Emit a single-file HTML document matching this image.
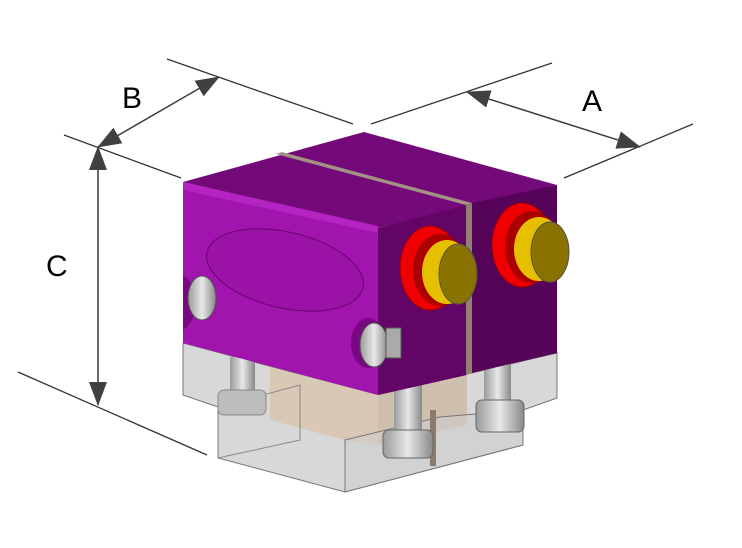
<!DOCTYPE html>
<html><head><meta charset="utf-8"><style>html,body{margin:0;padding:0;background:#fff}svg{display:block}</style></head>
<body>
<svg width="742" height="548" viewBox="0 0 742 548" xmlns="http://www.w3.org/2000/svg">
<defs>
<marker id="ar" markerWidth="24" markerHeight="18" refX="23" refY="9" orient="auto-start-reverse" markerUnits="userSpaceOnUse" viewBox="0 0 24 18"><path d="M0,0 L24,9 L0,18z" fill="#404040"/></marker>
<linearGradient id="scr" x1="0" x2="1"><stop offset="0" stop-color="#9a9a9a"/><stop offset=".5" stop-color="#e8e8e8"/><stop offset="1" stop-color="#888"/></linearGradient>
</defs>
<g stroke="#333" stroke-width="1.3" fill="none">
<line x1="167" y1="59" x2="353" y2="124"/>
<line x1="371" y1="124" x2="552" y2="63"/>
<line x1="564" y1="178" x2="693" y2="124"/>
<line x1="64" y1="135" x2="181" y2="178"/>
<line x1="18" y1="372" x2="207" y2="455"/>
</g>
<g stroke="#3c3c3c" stroke-width="1.5" fill="none">
<line x1="98" y1="147" x2="219" y2="77" marker-start="url(#ar)" marker-end="url(#ar)"/>
<line x1="467" y1="92" x2="640" y2="147" marker-start="url(#ar)" marker-end="url(#ar)"/>
<line x1="98" y1="147" x2="98" y2="405" marker-start="url(#ar)" marker-end="url(#ar)"/>
</g>
<g font-family="Liberation Sans, sans-serif" font-size="30" fill="#000">
<text x="122" y="108">B</text>
<text x="582" y="111">A</text>
<text x="46" y="276">C</text>
</g>
<polygon points="183,343 183,395 218,407 218,458 345,492 523,445 523,410 557,398 557,353 378,395" fill="#d8d8d8" stroke="#777" stroke-width="1"/>
<polygon points="270,367 378,395 378,445 345,440 270,420" fill="#d9c8b6"/>
<polygon points="378,395 467,375 467,425 378,445" fill="#cfbfae"/>
<polyline points="218,407 300,385 300,440 218,458" fill="none" stroke="#888"/>
<polyline points="345,440 345,492" stroke="#888"/>
<polygon points="345,440 440,417 523,410 523,445 345,492" fill="#cfcfcf" fill-opacity=".6" stroke="#777"/>
<rect x="430" y="410" width="6" height="56" fill="#8a7b6c"/>
<rect x="230" y="357" width="25" height="40" fill="url(#scr)"/>
<rect x="218" y="390" width="48" height="25" rx="6" fill="#bdbdbd" stroke="#888"/>
<rect x="394" y="385" width="28" height="50" fill="url(#scr)"/>
<rect x="383" y="430" width="50" height="28" rx="6" fill="url(#scr)" stroke="#666"/>
<rect x="484" y="355" width="27" height="50" fill="url(#scr)"/>
<rect x="476" y="400" width="48" height="32" rx="6" fill="url(#scr)" stroke="#666"/>
<polygon points="183,182 364,132 557,185 378,228" fill="#740a7a"/>
<polygon points="183,182 378,228 378,395 183,343" fill="#a114ad"/>
<polygon points="183,182 378,226 378,233 183,190" fill="#b424c0"/>
<polygon points="378,228 467,205 467,375 378,395" fill="#620566"/>
<polygon points="472,203 557,185 557,353 472,373" fill="#560459"/>
<polygon points="276,154 282,152 472,203 466,205" fill="#a39384"/>
<polygon points="466,205 472,203 472,373 466,375" fill="#8f8070"/>
<ellipse cx="285" cy="270" rx="80" ry="38" transform="rotate(13 285 270)" fill="#9a12a6" stroke="#6a0470" stroke-width="1"/>
<ellipse cx="430" cy="268" rx="30" ry="42" fill="#e00" stroke="#900"/>
<ellipse cx="440" cy="270" rx="27" ry="36" fill="#a00"/>
<ellipse cx="447" cy="272" rx="25" ry="32" fill="#e6c000"/>
<ellipse cx="458" cy="274" rx="19" ry="30" fill="#8a7200" stroke="#554"/>
<ellipse cx="522" cy="245" rx="30" ry="42" fill="#e00" stroke="#900"/>
<ellipse cx="532" cy="247" rx="27" ry="36" fill="#a00"/>
<ellipse cx="539" cy="249" rx="25" ry="32" fill="#e6c000"/>
<ellipse cx="550" cy="252" rx="19" ry="30" fill="#8a7200" stroke="#554"/>
<path d="M183,275 a22,30 0 0 1 0,55z" fill="#7a0882"/>
<ellipse cx="202" cy="298" rx="14" ry="22" fill="url(#scr)" stroke="#555"/>
<ellipse cx="368" cy="343" rx="17" ry="25" fill="#7a0882"/>
<ellipse cx="374" cy="345" rx="14" ry="22" fill="url(#scr)" stroke="#555"/>
<rect x="386" y="328" width="15" height="30" fill="#aaa" stroke="#555"/>
</svg>
</body></html>
